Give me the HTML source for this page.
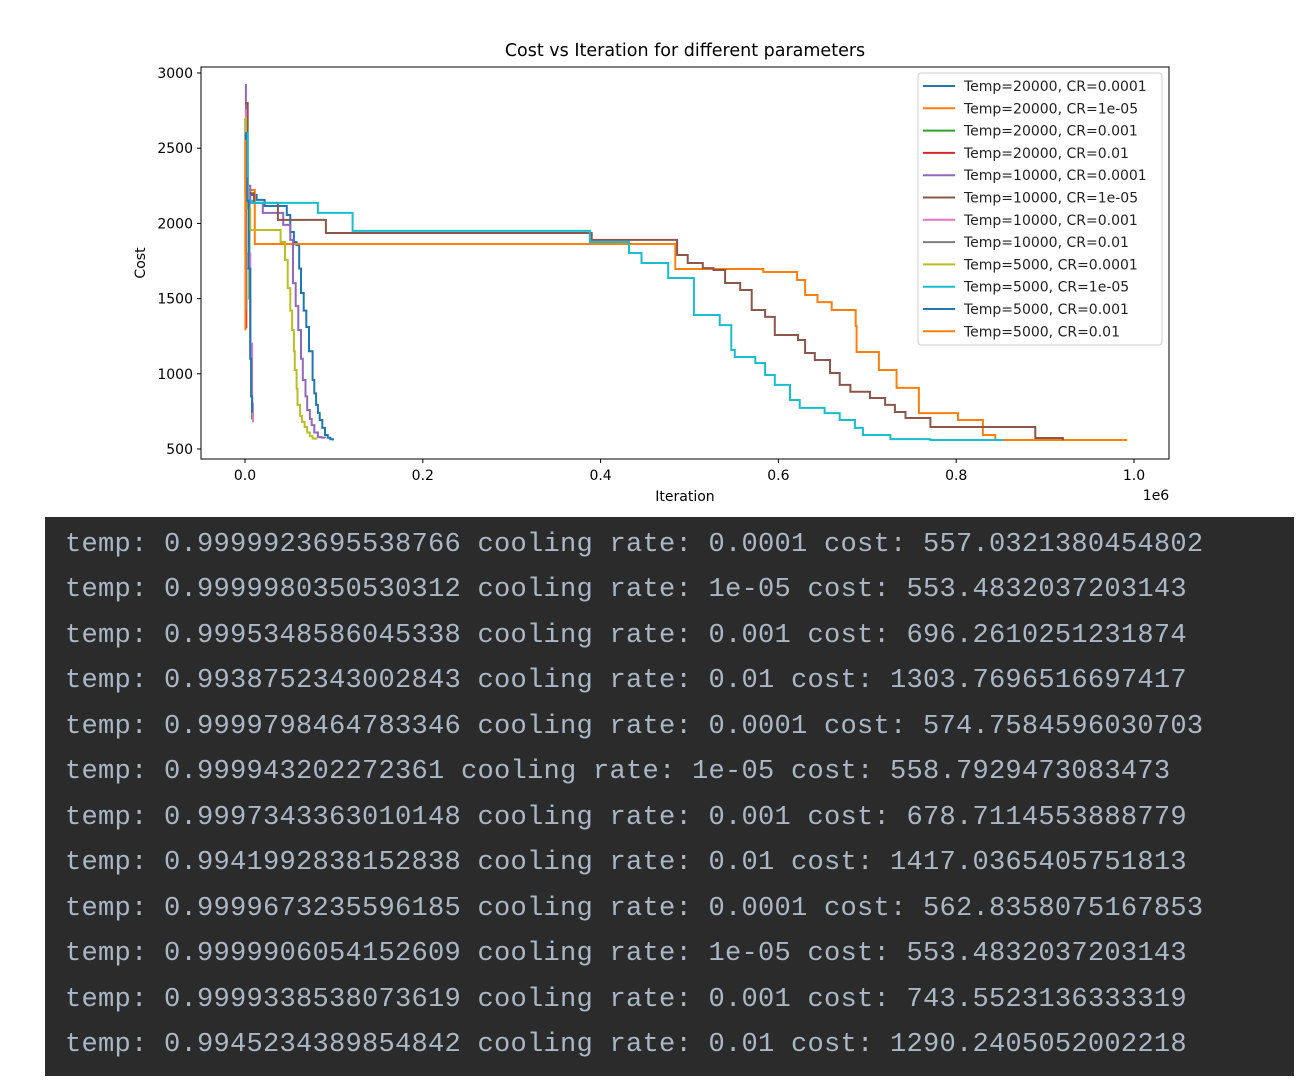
<!DOCTYPE html>
<html><head><meta charset="utf-8"><style>
html,body{margin:0;padding:0;background:#fff;width:1308px;height:1088px;overflow:hidden}
#term{position:absolute;left:45px;top:517px;width:1249px;height:559px;background:#2b2b2b}
.tl{position:absolute;left:20px;font-family:"Liberation Mono","DejaVu Sans Mono",monospace;font-size:27.1px;letter-spacing:0.24px;color:#a9b7c6;white-space:pre;line-height:30px}
svg{position:absolute;left:0;top:0}
</style></head><body>
<svg id="chart" width="1308" height="515" xmlns="http://www.w3.org/2000/svg" font-family="DejaVu Sans, Liberation Sans, sans-serif"></svg>
<div id="term"></div>
<script>
// iterations in thousands, cost values (step-post)
const s1Iter=[0,1,3,6,13,22,47,51,55,58,61,63,66,69,72,76,78,80,82,84,87,90,93,96,99];
const s1Cost=[2650,2300,2200,2189,2156,2116,2056,1943,1876,1856,1700,1537,1420,1311,1150,959,870,793,740,693,640,593,575,565,557];
const s2Iter=[0,2,11,484,583,621,630,644,660,687,688,713,733,758,802,830,844,991];
const s2Cost=[2500,2222,1863,1697,1677,1624,1524,1477,1424,1318,1145,1025,906,739,693,593,560,553];
const s3Iter=[0,1,2,3,5,6,7,8];
const s3Cost=[2700,2300,2200,2150,1500,1100,850,696];
const s4Iter=[0,0.5,1,1.5];
const s4Cost=[2600,2200,1700,1303];
const s5Iter=[0,1,3,6,20,43,51,54,57,60,63,65,68,70,73,75,78,82,86,90];
const s5Cost=[2920,2400,2250,2136,2070,1990,1890,1603,1450,1291,1100,959,850,759,700,659,610,579,576,574];
const s6Iter=[0,3,10,37,91,390,486,498,515,527,540,557,570,585,596,622,630,641,658,669,681,703,720,731,743,771,889,920];
const s6Cost=[2800,2200,2136,2023,1936,1890,1790,1737,1703,1690,1604,1557,1424,1378,1258,1225,1138,1092,1005,926,880,839,793,746,706,646,573,558];
const s7Iter=[0,1,2,4,6,8,9];
const s7Cost=[2750,2350,2200,1800,1200,800,678];
const s8Iter=[0,0.5,1,1.5];
const s8Cost=[2700,2300,1800,1417];
const s9Iter=[0,1,3,6,40,45,48,51,53,55,56,58,59,62,64,67,70,73,76,80];
const s9Cost=[2700,2300,2100,1956,1876,1757,1570,1420,1291,1150,1025,900,793,720,680,646,610,586,570,562];
const s10Iter=[0,3,8,82,121,388,432,446,476,505,534,547,551,574,585,596,613,624,652,669,686,695,726,771,852];
const s10Cost=[2600,2150,2136,2070,1950,1876,1803,1737,1637,1391,1324,1158,1112,1072,992,926,826,773,739,693,640,593,566,560,553];
const s11Iter=[0,1,2,4,6,7,8];
const s11Cost=[2600,2300,2150,1700,1100,850,743];
const s12Iter=[0,0.3,0.5];
const s12Cost=[2550,1800,1290];
const seriesLabels=["Temp=20000, CR=0.0001","Temp=20000, CR=1e-05","Temp=20000, CR=0.001","Temp=20000, CR=0.01","Temp=10000, CR=0.0001","Temp=10000, CR=1e-05","Temp=10000, CR=0.001","Temp=10000, CR=0.01","Temp=5000, CR=0.0001","Temp=5000, CR=1e-05","Temp=5000, CR=0.001","Temp=5000, CR=0.01"];
const xTicks=[0,0.2,0.4,0.6,0.8,1.0];
const xTickLabels=["0.0","0.2","0.4","0.6","0.8","1.0"];
const yTicks=[500,1000,1500,2000,2500,3000];
const termLines=[
"temp: 0.9999923695538766 cooling rate: 0.0001 cost: 557.0321380454802",
"temp: 0.9999980350530312 cooling rate: 1e-05 cost: 553.4832037203143",
"temp: 0.9995348586045338 cooling rate: 0.001 cost: 696.2610251231874",
"temp: 0.9938752343002843 cooling rate: 0.01 cost: 1303.7696516697417",
"temp: 0.9999798464783346 cooling rate: 0.0001 cost: 574.7584596030703",
"temp: 0.999943202272361 cooling rate: 1e-05 cost: 558.7929473083473",
"temp: 0.9997343363010148 cooling rate: 0.001 cost: 678.7114553888779",
"temp: 0.9941992838152838 cooling rate: 0.01 cost: 1417.0365405751813",
"temp: 0.9999673235596185 cooling rate: 0.0001 cost: 562.8358075167853",
"temp: 0.9999906054152609 cooling rate: 1e-05 cost: 553.4832037203143",
"temp: 0.9999338538073619 cooling rate: 0.001 cost: 743.5523136333319",
"temp: 0.9945234389854842 cooling rate: 0.01 cost: 1290.2405052002218"];

const colors=["#1f77b4","#ff7f0e","#2ca02c","#d62728","#9467bd","#8c564b","#e377c2","#7f7f7f","#bcbd22","#17becf","#1f77b4","#ff7f0e"];
const allIter=[s1Iter,s2Iter,s3Iter,s4Iter,s5Iter,s6Iter,s7Iter,s8Iter,s9Iter,s10Iter,s11Iter,s12Iter];
const allCost=[s1Cost,s2Cost,s3Cost,s4Cost,s5Cost,s6Cost,s7Cost,s8Cost,s9Cost,s10Cost,s11Cost,s12Cost];
const NS="http://www.w3.org/2000/svg";
const svg=document.getElementById('chart');
const L=201,R=1169,T=67,B=459;
function xs(k){return 245+k/1000*889;}
function xsM(m){return 245+m*889;}
function ys(c){return 449-(c-500)*376/2500;}
function mk(tag,attrs){const e=document.createElementNS(NS,tag);for(const k in attrs)e.setAttribute(k,attrs[k]);svg.appendChild(e);return e;}
function txt(s,attrs){const e=mk('text',attrs);e.textContent=s;return e;}

let t=txt("Cost vs Iteration for different parameters",{x:685,y:56,'font-size':17.5,'text-anchor':'middle',fill:'#000'});


for(let i=0;i<12;i++){
  const X=allIter[i],Y=allCost[i];
  let d="M"+xs(X[0]).toFixed(1)+" "+ys(Y[0]).toFixed(1);
  for(let j=1;j<X.length;j++){d+=" H"+xs(X[j]).toFixed(1)+" V"+ys(Y[j]).toFixed(1);}
  const p=mk('path',{d:d,fill:'none',stroke:colors[i],'stroke-width':2,'stroke-linejoin':'miter'});
  
  
}
const fr=mk('rect',{x:L,y:T,width:R-L,height:B-T,fill:'none',stroke:'#000','stroke-width':1});

for(let i=0;i<xTicks.length;i++){
  const x=xsM(xTicks[i]);
  mk('line',{x1:x,x2:x,y1:B,y2:B+4,stroke:'#000'});
  const e=txt(xTickLabels[i],{x:x,y:B+21,'font-size':14,'text-anchor':'middle',fill:'#000'});
  
}
for(let i=0;i<yTicks.length;i++){
  const y=ys(yTicks[i]);
  mk('line',{x1:L-4,x2:L,y1:y,y2:y,stroke:'#000'});
  const e=txt(String(yTicks[i]),{x:L-8,y:y+5,'font-size':14,'text-anchor':'end',fill:'#000'});
  
}
t=txt("Iteration",{x:685,y:501,'font-size':14,'text-anchor':'middle',fill:'#000'});

t=txt("1e6",{x:1156,y:500,'font-size':14,'text-anchor':'middle',fill:'#000'});

t=txt("Cost",{x:0,y:0,'font-size':14,'text-anchor':'middle',fill:'#000',transform:'translate(145,263) rotate(-90)'});

const lg=mk('rect',{x:918,y:73,width:244,height:272,rx:3,fill:'#fff','fill-opacity':0.8,stroke:'#ccc'});

for(let i=0;i<12;i++){
  const y=86+i*22.3;
  mk('line',{x1:923,x2:955,y1:y,y2:y,stroke:colors[i],'stroke-width':2});
  const e=txt(seriesLabels[i],{x:964,y:y+5,'font-size':14,fill:'#222'});
  
}
const term=document.getElementById('term');
for(let i=0;i<termLines.length;i++){
  const d=document.createElement('div');
  d.className='tl';
  d.style.top=(13+i*45.45)+'px';
  d.textContent=termLines[i];
  
  
  term.appendChild(d);
}
</script>
</body></html>
